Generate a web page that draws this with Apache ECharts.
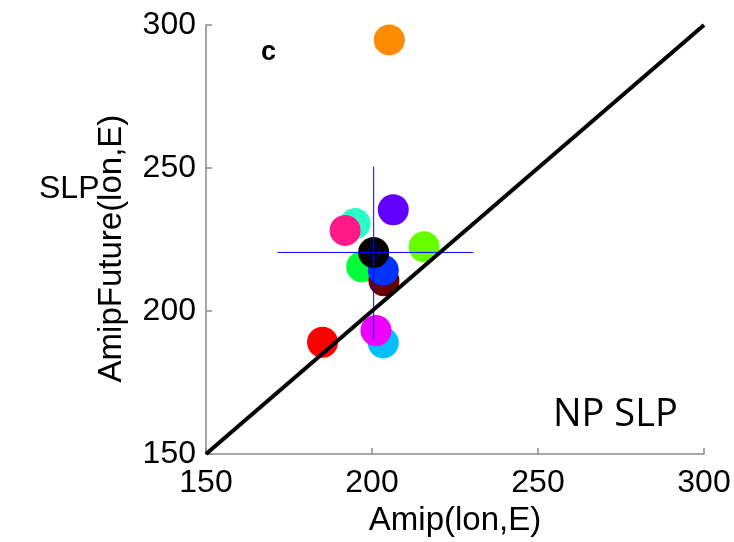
<!DOCTYPE html>
<html><head><meta charset="utf-8">
<script src="https://cdn.jsdelivr.net/npm/echarts@6/dist/echarts.min.js"></script>
<style>html,body{margin:0;padding:0;background:#fff}#c{width:734px;height:542px}</style>
</head><body><div id="c"></div><script>
// Model positions: Amip (x) vs AmipFuture (y), lon E
const models = ['m1','m2','m3','m4','m5','m6','m7','m8','m9','m10','m11','mean'];
const xVals = [194.9, 191.9, 206.4, 215.7, 196.9, 203.6, 203.4, 203.4, 201.2, 185.1, 205.2, 200.5];
const yVals = [230.6, 228.2, 235.4, 222.5, 215.5, 210.6, 214.3, 188.9, 193.2, 189.1, 294.8, 220.5];
const colors = ['#2affc8', '#ff1a8a', '#6200ff', '#66ff00', '#00ff3a', '#6a0000', '#0033ff', '#00bfff', '#ee00ff', '#ff0000', '#ff8c00', '#000000'];
const meanPoint = [200.5, 220.5];
const xSpread = [171.5, 230.5];
const ySpread = [190.5, 250.5];
const oneToOne = [150, 300];
const axisMin = 150, axisMax = 300, axisStep = 50;

const series = [];
models.forEach(function (m, i) {
  series.push({
    type: 'scatter', name: m, symbol: 'circle', symbolSize: 31,
    data: [[xVals[i], yVals[i]]],
    itemStyle: { color: colors[i], opacity: 1 },
    emphasis: { disabled: true }
  });
});
series.push({
  type: 'line', symbol: 'none', data: [[xSpread[0], meanPoint[1]], [xSpread[1], meanPoint[1]]],
  lineStyle: { color: '#0000ff', width: 1 }
});
series.push({
  type: 'line', symbol: 'none', data: [[meanPoint[0], ySpread[0]], [meanPoint[0], ySpread[1]]],
  lineStyle: { color: '#0000ff', width: 1 }
});
series.push({
  type: 'scatter', symbol: 'circle', symbolSize: 12, data: [meanPoint],
  itemStyle: { color: 'rgba(0,0,0,0)', borderColor: '#0000ff', borderWidth: 1 }
});
series.push({
  type: 'line', symbol: 'none', data: [[oneToOne[0], oneToOne[0]], [oneToOne[1], oneToOne[1]]],
  lineStyle: { color: '#000000', width: 4 }
});

const axisCommon = {
  type: 'value', min: axisMin, max: axisMax, interval: axisStep,
  splitLine: { show: false },
  axisLine: { show: true, lineStyle: { color: '#8a8a8a', width: 1.5 } },
  axisTick: { show: true, inside: true, length: 6, lineStyle: { color: '#8a8a8a', width: 1.5 } }
};

const chart = echarts.init(document.getElementById('c'));
chart.setOption({
  animation: false,
  backgroundColor: '#fff',
  grid: { left: 206, right: 30, top: 25, bottom: 84 },
  xAxis: Object.assign({}, axisCommon, {
    name: 'Amip(lon,E)', nameLocation: 'middle', nameGap: 49,
    nameTextStyle: { fontFamily: 'Liberation Sans', fontSize: 33, color: '#000' },
    axisLabel: { fontFamily: 'Liberation Sans', fontSize: 32, color: '#000', margin: 13 }
  }),
  yAxis: Object.assign({}, axisCommon, {
    name: 'AmipFuture(lon,E)', nameLocation: 'middle', nameGap: 78,
    nameTextStyle: { fontFamily: 'Liberation Sans', fontSize: 33, color: '#000', padding: [0, 18, 0, 0] },
    axisLabel: { fontFamily: 'Liberation Sans', fontSize: 32, color: '#000', margin: 10 }
  }),
  graphic: [
    { type: 'text', left: 261, top: 39, style: { text: 'c', font: 'bold 27px "Liberation Sans"', fill: '#000' } },
    { type: 'text', left: 39, top: 173, style: { text: 'SLP', font: '32px "Liberation Sans"', fill: '#000' } },
    { type: 'text', left: 553, top: 396, style: { text: 'NP SLP', font: '38px "Open Sans"', fill: '#000' } }
  ],
  series: series
});
</script></body></html>
